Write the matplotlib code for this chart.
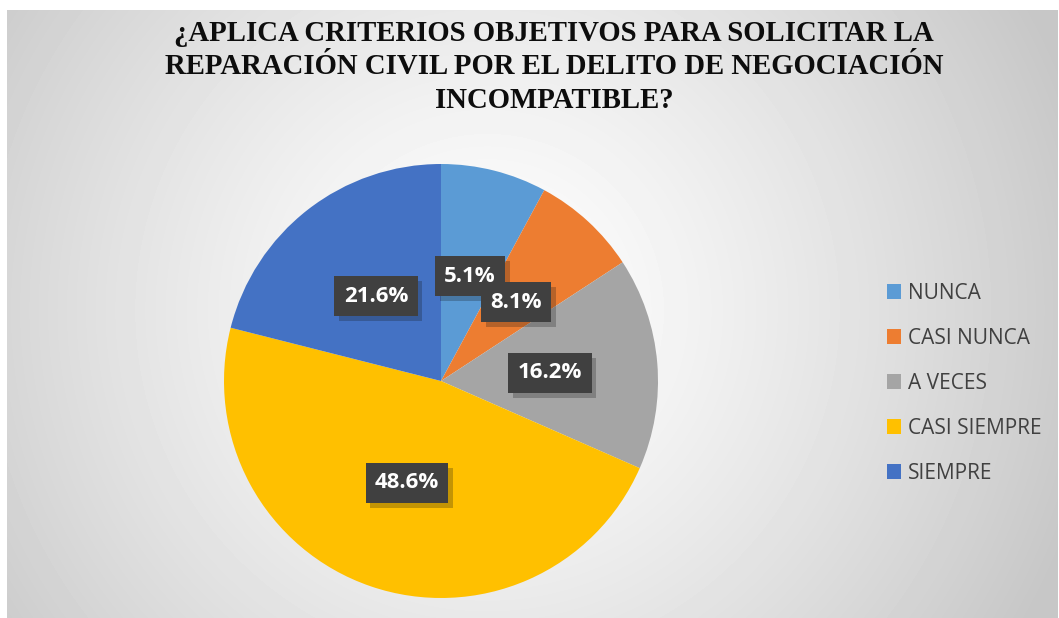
import numpy as np
import matplotlib
matplotlib.use("Agg")
from matplotlib import pyplot as plt
from matplotlib.patches import Patch
import matplotlib.patheffects as pe

# data
categorias = ["NUNCA", "CASI NUNCA", "A VECES", "CASI SIEMPRE", "SIEMPRE"]
frecuencias = [3, 3, 6, 18, 8]
etiquetas = ["5.1%", "8.1%", "16.2%", "48.6%", "21.6%"]
colores = ["#5B9BD5", "#ED7D31", "#A5A5A5", "#FFC000", "#4472C4"]
titulo = "¿APLICA CRITERIOS OBJETIVOS PARA SOLICITAR LA\nREPARACIÓN CIVIL POR EL DELITO DE NEGOCIACIÓN\nINCOMPATIBLE?"

W, H = 1059, 618
fig = plt.figure(figsize=(W / 100, H / 100), dpi=100)
fig.patch.set_facecolor("white")

# radial gradient background
bg = fig.add_axes([7 / W, 0, (W - 8) / W, (H - 10) / H])
yy, xx = np.mgrid[0:608, 0:1051]
r = np.hypot(xx - 480, yy - 300)
val = 1.0 - 0.22 * np.clip(r / 620, 0, 1) ** 1.3
bg.imshow(val, cmap="gray", vmin=0, vmax=1, aspect="auto", interpolation="bilinear")
bg.set_axis_off()

fig.text(554 / W, 1 - 67 / H, titulo, ha="center", va="center",
         family="Liberation Serif", weight="bold", fontsize=20.7,
         color="#0d0d0d", linespacing=1.3)

# pie
cx, cy, rad = 441, 381, 217
ax = fig.add_axes([(cx - rad) / W, (H - cy - rad) / H, 2 * rad / W, 2 * rad / H])
ax.pie(frecuencias, colors=colores, startangle=90, counterclock=False,
       radius=1, wedgeprops=dict(linewidth=0))
ax.set_xlim(-1, 1)
ax.set_ylim(-1, 1)
ax.set_axis_off()

# label boxes (pixel centres)
pos = [(470, 276), (516, 302), (550, 373), (407, 483), (376, 296)]
orden = [4, 3, 2, 0, 1]
for i in orden:
    x, y = pos[i]
    t = fig.text(x / W, 1 - y / H, etiquetas[i], ha="center", va="center",
                 family="Open Sans", weight="bold", fontsize=16, color="white",
                 bbox=dict(boxstyle="square,pad=0.42", fc="#404040", ec="none"))
    t.get_bbox_patch().set_path_effects(
        [pe.SimplePatchShadow(offset=(3.5, -3.5), alpha=0.25), pe.Normal()])

handles = [Patch(facecolor=c, edgecolor="none") for c in colores]
leg = fig.legend(handles, categorias, loc="upper left",
                 bbox_to_anchor=(868 / W, 1 - 264 / H), frameon=False,
                 prop=dict(family="Open Sans", size=15),
                 handlelength=0.7, handleheight=0.7, handletextpad=0.3,
                 labelspacing=1.15)
for t in leg.get_texts():
    t.set_color("#404040")

fig.savefig("out.png", dpi=100)
